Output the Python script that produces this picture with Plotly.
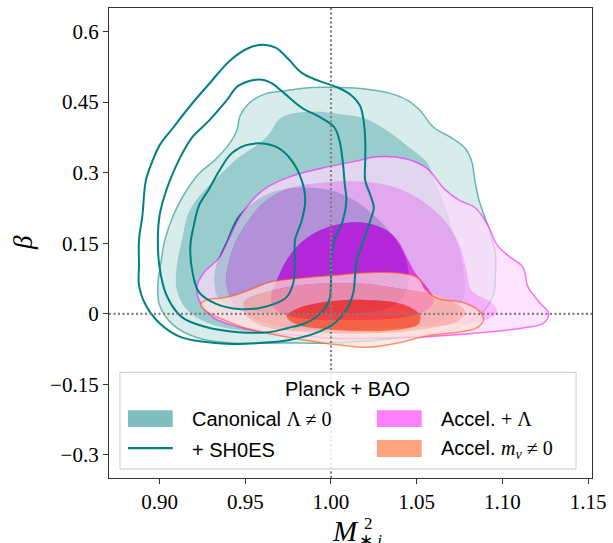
import plotly.graph_objects as go

# ---------------- data (in data units) ----------------
# Canonical Lambda != 0 : three credible-region contours (outer -> inner)
canon_l3_x = [1.004, 1.020, 1.035, 1.045, 1.052, 1.060, 1.070, 1.078, 1.082, 1.084, 1.086, 1.089, 1.093, 1.096, 1.096, 1.095, 1.091, 1.085, 1.075, 1.062, 1.046, 1.027, 1.000, 0.971, 0.942, 0.923, 0.908, 0.900, 0.899, 0.901, 0.903, 0.908, 0.914, 0.923, 0.932, 0.940, 0.945, 0.947, 0.952, 0.962, 0.973, 0.989]
canon_l3_y = [0.481, 0.478, 0.468, 0.453, 0.432, 0.396, 0.375, 0.353, 0.326, 0.283, 0.247, 0.213, 0.171, 0.129, 0.086, 0.044, 0.014, -0.007, -0.028, -0.041, -0.049, -0.056, -0.062, -0.062, -0.062, -0.052, -0.024, 0.018, 0.061, 0.114, 0.156, 0.209, 0.252, 0.298, 0.326, 0.358, 0.389, 0.421, 0.447, 0.468, 0.474, 0.481]
canon_l2_x = [0.973, 0.981, 0.993, 1.004, 1.020, 1.033, 1.046, 1.056, 1.061, 1.066, 1.070, 1.075, 1.078, 1.077, 1.069, 1.051, 1.027, 0.998, 0.969, 0.946, 0.927, 0.916, 0.910, 0.910, 0.913, 0.917, 0.926, 0.936, 0.946, 0.958, 0.964, 0.969]
canon_l2_y = [0.421, 0.428, 0.430, 0.425, 0.415, 0.389, 0.353, 0.322, 0.277, 0.235, 0.192, 0.135, 0.071, 0.029, -0.007, -0.030, -0.041, -0.043, -0.041, -0.035, -0.018, 0.008, 0.050, 0.103, 0.156, 0.216, 0.262, 0.298, 0.332, 0.362, 0.383, 0.411]
canon_l1_x = [0.981, 0.998, 1.012, 1.027, 1.039, 1.045, 1.044, 1.036, 1.016, 0.981, 0.946, 0.935, 0.932, 0.933, 0.939, 0.946, 0.958, 0.967]
canon_l1_y = [0.269, 0.264, 0.245, 0.203, 0.152, 0.099, 0.046, 0.016, 0.001, -0.003, 0.012, 0.029, 0.061, 0.103, 0.156, 0.209, 0.245, 0.260]

# + SH0ES : three line contours (outer -> inner)
shoes_l3_x = [0.961, 0.968, 0.975, 0.983, 0.993, 1.004, 1.012, 1.017, 1.019, 1.020, 1.020, 1.020, 1.023, 1.025, 1.023, 1.019, 1.015, 1.014, 1.013, 1.009, 1.002, 0.991, 0.975, 0.958, 0.942, 0.927, 0.912, 0.900, 0.892, 0.888, 0.888, 0.888, 0.890, 0.892, 0.896, 0.900, 0.908, 0.919, 0.929, 0.941, 0.952]
shoes_l3_y = [0.572, 0.565, 0.542, 0.512, 0.495, 0.481, 0.464, 0.442, 0.411, 0.368, 0.326, 0.283, 0.252, 0.226, 0.199, 0.156, 0.114, 0.078, 0.044, 0.008, -0.020, -0.041, -0.056, -0.062, -0.064, -0.060, -0.049, -0.020, 0.018, 0.061, 0.103, 0.156, 0.209, 0.283, 0.326, 0.358, 0.396, 0.447, 0.489, 0.538, 0.565]
shoes_l2_x = [0.958, 0.965, 0.973, 0.983, 0.994, 1.002, 1.005, 1.007, 1.008, 1.009, 1.007, 1.002, 1.000, 1.000, 0.999, 0.994, 0.985, 0.975, 0.964, 0.946, 0.927, 0.913, 0.904, 0.900, 0.899, 0.900, 0.903, 0.906, 0.912, 0.919, 0.929, 0.939, 0.946]
shoes_l2_y = [0.498, 0.491, 0.468, 0.438, 0.417, 0.396, 0.368, 0.319, 0.277, 0.241, 0.199, 0.156, 0.114, 0.065, 0.029, 0.001, -0.020, -0.030, -0.039, -0.039, -0.028, -0.007, 0.040, 0.099, 0.156, 0.209, 0.252, 0.283, 0.332, 0.375, 0.411, 0.453, 0.485]
shoes_l1_x = [0.960, 0.969, 0.977, 0.983, 0.985, 0.983, 0.979, 0.979, 0.978, 0.974, 0.967, 0.958, 0.946, 0.933, 0.923, 0.919, 0.918, 0.920, 0.923, 0.929, 0.935, 0.942, 0.950]
shoes_l1_y = [0.362, 0.353, 0.326, 0.283, 0.241, 0.199, 0.156, 0.114, 0.065, 0.035, 0.021, 0.012, 0.010, 0.021, 0.046, 0.093, 0.146, 0.188, 0.230, 0.266, 0.305, 0.341, 0.358]

# Accel. + Lambda
accl_l3_x = [1.027, 1.043, 1.056, 1.066, 1.075, 1.084, 1.091, 1.097, 1.104, 1.112, 1.115, 1.122, 1.127, 1.124, 1.112, 1.085, 1.056, 1.027, 1.000, 0.985, 0.965, 0.946, 0.931, 0.923, 0.922, 0.926, 0.935, 0.940, 0.948, 0.960, 0.975, 0.994, 1.014]
accl_l3_y = [0.334, 0.330, 0.309, 0.266, 0.241, 0.226, 0.192, 0.146, 0.122, 0.099, 0.057, 0.023, 0.001, -0.020, -0.030, -0.041, -0.049, -0.052, -0.052, -0.047, -0.041, -0.028, -0.007, 0.029, 0.061, 0.088, 0.120, 0.156, 0.213, 0.262, 0.290, 0.309, 0.324]
accl_l2_x = [0.997, 1.016, 1.035, 1.051, 1.066, 1.075, 1.079, 1.082, 1.094, 1.097, 1.090, 1.068, 1.039, 1.004, 0.975, 0.955, 0.943, 0.939, 0.940, 0.944, 0.951, 0.961, 0.975]
accl_l2_y = [0.279, 0.281, 0.271, 0.245, 0.199, 0.146, 0.093, 0.050, 0.023, 0.004, -0.013, -0.024, -0.030, -0.035, -0.030, -0.009, 0.023, 0.065, 0.103, 0.150, 0.194, 0.237, 0.266]
accl_l1_x = [1.018, 1.031, 1.039, 1.044, 1.049, 1.056, 1.060, 1.056, 1.039, 1.010, 0.981, 0.968, 0.965, 0.968, 0.973, 0.981, 0.991, 1.004]
accl_l1_y = [0.194, 0.180, 0.156, 0.122, 0.088, 0.057, 0.029, 0.008, -0.009, -0.013, -0.009, 0.008, 0.035, 0.067, 0.107, 0.146, 0.173, 0.190]

# Accel. m_nu != 0
mnu_l3_x = [0.964, 0.983, 1.002, 1.022, 1.041, 1.051, 1.055, 1.062, 1.078, 1.087, 1.089, 1.085, 1.070, 1.056, 1.039, 1.022, 1.004, 0.985, 0.965, 0.950, 0.939, 0.927, 0.924, 0.927, 0.939, 0.952]
mnu_l3_y = [0.067, 0.076, 0.082, 0.088, 0.086, 0.076, 0.052, 0.033, 0.023, 0.004, -0.013, -0.030, -0.041, -0.047, -0.062, -0.071, -0.066, -0.056, -0.043, -0.030, -0.015, 0.006, 0.020, 0.029, 0.035, 0.050]
mnu_l2_x = [0.950, 0.964, 0.983, 1.002, 1.022, 1.039, 1.056, 1.071, 1.078, 1.075, 1.058, 1.029, 0.991, 0.962, 0.951, 0.949]
mnu_l2_y = [0.029, 0.048, 0.061, 0.065, 0.063, 0.054, 0.044, 0.025, 0.006, -0.013, -0.030, -0.041, -0.039, -0.028, -0.005, 0.016]
mnu_l1_x = [0.974, 0.981, 0.993, 1.007, 1.022, 1.036, 1.046, 1.052, 1.051, 1.036, 1.016, 0.998, 0.981]
mnu_l1_y = [-0.005, 0.012, 0.023, 0.029, 0.029, 0.025, 0.014, -0.003, -0.022, -0.035, -0.037, -0.033, -0.024]

x_ticks = [0.90, 0.95, 1.00, 1.05, 1.10, 1.15]
x_tick_labels = ["0.90", "0.95", "1.00", "1.05", "1.10", "1.15"]
y_ticks = [-0.3, -0.15, 0.0, 0.15, 0.3, 0.45, 0.6]
y_tick_labels = ["\u22120.3", "\u22120.15", "0", "0.15", "0.3", "0.45", "0.6"]
x_range = [0.8705, 1.1523]
y_range = [-0.349, 0.650]
ref_x = 1.0
ref_y = 0.0

legend_title = "Planck + BAO"

# ---------------- helpers ----------------
def closed(xs, ys):
    return list(xs) + [xs[0]], list(ys) + [ys[0]]

def band(outer, inner):
    ox, oy = closed(*outer)
    if inner is None:
        return ox, oy
    ix, iy = closed(list(reversed(inner[0])), list(reversed(inner[1])))
    return ox + [None] + ix, oy + [None] + iy

def rgba(c, a):
    return "rgba(%d,%d,%d,%g)" % (c[0], c[1], c[2], a)

def tint(c, w):
    return tuple(round(c[i] + (255 - c[i]) * w) for i in range(3))

fig = go.Figure()

datasets = [
    ((0, 128, 128), 1.0, [(canon_l3_x, canon_l3_y), (canon_l2_x, canon_l2_y), (canon_l1_x, canon_l1_y)]),
    ((255, 0, 255), 0.7, [(accl_l3_x, accl_l3_y), (accl_l2_x, accl_l2_y), (accl_l1_x, accl_l1_y)]),
    ((255, 69, 0), 0.7, [(mnu_l3_x, mnu_l3_y), (mnu_l2_x, mnu_l2_y), (mnu_l1_x, mnu_l1_y)]),
]
whites = [0.85, 0.6, 0.0]

for base, alpha, levels in datasets:
    for k in range(3):
        inner = levels[k + 1] if k < 2 else None
        bx, by = band(levels[k], inner)
        fig.add_trace(go.Scatter(
            x=bx, y=by, mode="lines", fill="toself",
            fillcolor=rgba(tint(base, whites[k]), alpha),
            line=dict(width=0, shape="spline", smoothing=1.0),
            hoverinfo="skip", showlegend=False, connectgaps=False))
    ex, ey = closed(*levels[0])
    fig.add_trace(go.Scatter(
        x=ex, y=ey, mode="lines",
        line=dict(width=1.5, color=rgba(base, 0.55), shape="spline", smoothing=1.0),
        hoverinfo="skip", showlegend=False))

for lx, ly in [(shoes_l3_x, shoes_l3_y), (shoes_l2_x, shoes_l2_y), (shoes_l1_x, shoes_l1_y)]:
    cx, cy = closed(lx, ly)
    fig.add_trace(go.Scatter(
        x=cx, y=cy, mode="lines",
        line=dict(width=2, color="#008080", shape="spline", smoothing=1.0),
        hoverinfo="skip", showlegend=False))

shapes = [
    dict(type="line", xref="x", yref="paper", x0=ref_x, x1=ref_x, y0=0, y1=1,
         line=dict(color="#808080", width=2.2, dash="2px,2.5px"), layer="above"),
    dict(type="line", xref="paper", yref="y", x0=0, x1=1, y0=ref_y, y1=ref_y,
         line=dict(color="#808080", width=2.2, dash="2px,2.5px"), layer="above"),
    # legend frame
    dict(type="rect", xref="paper", yref="paper", x0=0.0227, x1=0.967, y0=0.0191, y1=0.225,
         fillcolor="rgba(255,255,255,0.82)", line=dict(color="#cccccc", width=1), layer="above"),
    # legend keys
    dict(type="rect", xref="paper", yref="paper", x0=0.0392, x1=0.132, y0=0.1083, y1=0.1444,
         fillcolor=rgba((0, 128, 128), 0.5), line=dict(width=0), layer="above"),
    dict(type="line", xref="paper", yref="paper", x0=0.0392, x1=0.132, y0=0.0637, y1=0.0637,
         line=dict(color="#008080", width=2.2), layer="above"),
    dict(type="rect", xref="paper", yref="paper", x0=0.5546, x1=0.6474, y0=0.1083, y1=0.1444,
         fillcolor=rgba((255, 0, 255), 0.5), line=dict(width=0), layer="above"),
    dict(type="rect", xref="paper", yref="paper", x0=0.5546, x1=0.6474, y0=0.0446, y1=0.0807,
         fillcolor=rgba((255, 69, 0), 0.5), line=dict(width=0), layer="above"),
]

SANS = "Liberation Sans"
SERIF = "Liberation Serif"
lfs = 20
annotations = [
    dict(text=legend_title, xref="paper", yref="paper", x=0.493, y=0.189,
         xanchor="center", yanchor="middle", showarrow=False, font=dict(family=SANS, size=lfs, color="black")),
    dict(text='Canonical <span style="font-family:%s">\u039b \u2260 0</span>' % SERIF,
         xref="paper", yref="paper", x=0.167, y=0.1253, xanchor="left", yanchor="middle",
         showarrow=False, font=dict(family=SANS, size=lfs, color="black")),
    dict(text="+ SH0ES", xref="paper", yref="paper", x=0.167, y=0.0594, xanchor="left", yanchor="middle",
         showarrow=False, font=dict(family=SANS, size=lfs, color="black")),
    dict(text='Accel. <span style="font-family:%s">+ \u039b</span>' % SERIF,
         xref="paper", yref="paper", x=0.6825, y=0.1253, xanchor="left", yanchor="middle",
         showarrow=False, font=dict(family=SANS, size=lfs, color="black")),
    dict(text='Accel. <span style="font-family:%s"><i>m</i><sub><i>\u03bd</i></sub> \u2260 0</span>' % SERIF,
         xref="paper", yref="paper", x=0.6825, y=0.0616, xanchor="left", yanchor="middle",
         showarrow=False, font=dict(family=SANS, size=lfs, color="black")),
    # axis titles
    dict(text="<i>\u03b2</i>", xref="paper", yref="paper", x=-0.179, y=0.501, textangle=-90,
         xanchor="center", yanchor="middle", showarrow=False, font=dict(family=SERIF, size=27, color="black")),
    dict(text="<i>M</i>", xref="paper", yref="paper", x=0.489, y=-0.113,
         xanchor="center", yanchor="middle", showarrow=False, font=dict(family=SERIF, size=29, color="black")),
    dict(text="2", xref="paper", yref="paper", x=0.538, y=-0.096,
         xanchor="center", yanchor="middle", showarrow=False, font=dict(family=SERIF, size=17, color="black")),
    dict(text="\u2217,<i>i</i>", xref="paper", yref="paper", x=0.541, y=-0.133,
         xanchor="center", yanchor="middle", showarrow=False, font=dict(family=SERIF, size=17, color="black")),
]

axis_common = dict(showgrid=False, zeroline=False, showline=True, linecolor="#333333", linewidth=1.2,
                   mirror=True, ticks="outside", ticklen=5, tickwidth=1.2, tickcolor="#333333",
                   tickfont=dict(family=SERIF, size=21, color="black"))

fig.update_layout(
    width=613, height=543,
    margin=dict(l=109, r=19, t=7, b=65, pad=0),
    paper_bgcolor="white", plot_bgcolor="white",
    xaxis=dict(range=x_range, tickvals=x_ticks, ticktext=x_tick_labels, **axis_common),
    yaxis=dict(range=y_range, tickvals=y_ticks, ticktext=y_tick_labels, **axis_common),
    shapes=shapes, annotations=annotations, showlegend=False,
)

# remove the default page margin so the figure fills the 613x543 window exactly
fig.write_html("out.html", config={"displayModeBar": False},
               post_script="document.body.style.margin='0';document.body.style.overflow='hidden';")
